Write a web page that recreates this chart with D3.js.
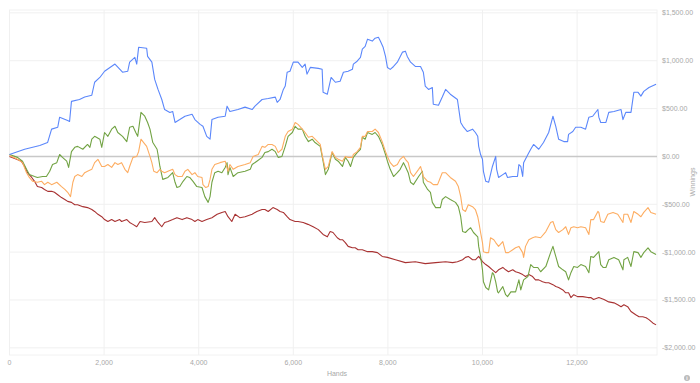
<!DOCTYPE html>
<html>
<head>
<meta charset="UTF-8" />
<script src="https://d3js.org/d3.v7.min.js"></script>
<style>
  body { margin: 0; background: #fff; }
  svg text { font-family: "Liberation Sans", Arial, sans-serif; fill: #a8a8a8; }
</style>
</head>
<body>
<div id="chart"></div>
<script>
// ---------- data: [hands, winnings] ----------
const blueData = [
  [0,20],[320,75],[640,115],[805,145],[890,285],[1020,305],[1060,410],[1230,375],[1270,365],[1310,575],
  [1480,595],[1590,620],[1740,640],[1800,775],[1910,825],[2010,890],[2230,965],[2390,880],[2500,890],[2540,985],
  [2650,1035],[2690,965],[2730,1140],[2900,1130],[2920,1045],[3010,985],[3070,805],[3140,700],[3220,595],[3280,490],
  [3390,460],[3450,470],[3500,355],[3600,385],[3710,420],[3860,440],[3920,385],[4030,335],[4090,315],[4170,210],
  [4240,180],[4280,385],[4410,410],[4560,420],[4600,525],[4660,470],[4830,490],[4980,515],[5130,490],[5190,525],
  [5340,595],[5470,605],[5620,620],[5660,565],[5720,595],[5790,700],[5830,735],[5870,880],[5930,890],[6000,985],
  [6100,985],[6190,930],[6250,965],[6290,860],[6360,930],[6530,920],[6610,910],[6630,670],[6720,650],[6800,825],
  [6890,775],[6990,785],[7060,880],[7160,890],[7250,910],[7270,965],[7350,995],[7420,1035],[7460,1120],[7520,1150],
  [7570,1225],[7670,1205],[7730,1235],[7800,1245],[7840,1205],[7900,1140],[7950,1045],[7990,930],[8050,910],[8120,940],
  [8200,985],[8310,1090],[8370,1100],[8410,1045],[8480,985],[8580,940],[8690,940],[8750,880],[8790,735],[8860,700],
  [8940,720],[8960,545],[9070,535],[9150,620],[9220,700],[9320,650],[9470,595],[9540,355],[9600,305],[9680,260],
  [9790,285],[9850,250],[9900,210],[9920,105],[9960,20],[10000,-30],[10020,-155],[10070,-260],[10130,-270],[10210,-105],
  [10280,0],[10300,-135],[10340,-220],[10430,-190],[10490,-170],[10530,-220],[10640,-210],[10740,-210],[10770,-85],[10810,-105],
  [10850,-210],[10870,-65],[10960,20],[11020,75],[11080,125],[11190,75],[11290,145],[11400,250],[11490,420],[11550,315],
  [11610,180],[11720,155],[11800,155],[11820,230],[11910,260],[11970,305],[12080,305],[12180,285],[12250,410],[12330,420],
  [12440,490],[12460,410],[12500,355],[12610,355],[12670,460],[12780,470],[12930,490],[12970,385],[13030,460],[13140,460],
  [13200,670],[13290,670],[13350,630],[13410,680],[13520,720],[13670,755]
];

const greenData = [
  [0,20],[170,-10],[275,-50],[360,-135],[420,-190],[530,-210],[590,-220],[700,-210],[780,-210],[850,-155],
  [910,-85],[1000,-65],[1060,20],[1120,-10],[1210,-50],[1250,-115],[1310,50],[1380,95],[1440,105],[1550,75],
  [1650,125],[1700,95],[1740,180],[1800,210],[1910,180],[1950,95],[2010,250],[2080,210],[2160,285],[2230,315],
  [2290,250],[2390,210],[2480,155],[2540,305],[2610,315],[2670,250],[2710,210],[2780,460],[2860,420],[2920,355],
  [2970,285],[3030,145],[3120,75],[3140,20],[3180,-105],[3240,-240],[3350,-220],[3450,-170],[3500,-270],[3540,-325],
  [3600,-315],[3670,-260],[3750,-210],[3810,-220],[3880,-260],[3960,-315],[4070,-325],[4130,-420],[4200,-480],[4240,-420],
  [4280,-270],[4340,-170],[4410,-155],[4490,-170],[4560,-115],[4600,-65],[4620,-190],[4660,-115],[4730,-210],[4830,-170],
  [4980,-155],[5090,-135],[5130,-85],[5230,-50],[5340,-10],[5400,40],[5470,50],[5550,75],[5620,50],[5680,-10],
  [5760,0],[5830,105],[5890,210],[5980,250],[6040,315],[6100,285],[6190,285],[6250,210],[6320,155],[6400,180],
  [6460,145],[6570,105],[6630,-50],[6680,-190],[6740,-135],[6820,40],[6890,-30],[6950,-50],[7040,-105],[7100,-10],
  [7160,-50],[7210,-105],[7270,-10],[7350,40],[7420,75],[7460,200],[7520,180],[7570,250],[7670,230],[7730,250],
  [7800,210],[7880,125],[7950,20],[7990,-50],[8050,-135],[8120,-210],[8200,-170],[8260,-135],[8330,-65],[8370,-105],
  [8430,-170],[8480,-270],[8540,-295],[8650,-210],[8730,-155],[8750,-270],[8840,-345],[8900,-375],[8940,-480],[9010,-535],
  [9110,-535],[9150,-450],[9220,-420],[9320,-450],[9430,-480],[9490,-525],[9540,-630],[9580,-785],[9640,-795],[9700,-765],
  [9750,-745],[9810,-795],[9900,-840],[9920,-940],[9960,-1045],[10000,-1185],[10020,-1310],[10070,-1370],[10130,-1395],[10210,-1215],
  [10240,-1235],[10280,-1310],[10320,-1415],[10340,-1425],[10430,-1360],[10490,-1445],[10530,-1465],[10600,-1415],[10700,-1415],[10770,-1290],
  [10810,-1395],[10870,-1290],[10960,-1255],[11020,-1130],[11080,-1160],[11170,-1160],[11230,-1205],[11340,-1150],[11440,-1005],[11490,-940],
  [11550,-1045],[11610,-1150],[11700,-1185],[11760,-1205],[11820,-1290],[11870,-1215],[11930,-1150],[12010,-1160],[12080,-1130],[12180,-1150],
  [12250,-1215],[12290,-1045],[12350,-1055],[12440,-1005],[12460,-995],[12500,-1130],[12550,-1160],[12610,-1160],[12670,-1080],[12780,-1055],
  [12880,-1080],[12970,-1185],[12990,-1080],[13070,-1055],[13140,-1150],[13200,-995],[13290,-1005],[13350,-1055],[13410,-1005],[13500,-955],
  [13560,-995],[13670,-1025]
];

const orangeData = [
  [0,10],[170,-30],[275,-65],[360,-170],[420,-220],[490,-260],[590,-270],[680,-260],[740,-295],[810,-270],
  [890,-295],[1000,-270],[1100,-315],[1170,-345],[1230,-375],[1290,-420],[1340,-270],[1380,-210],[1440,-190],[1530,-210],
  [1590,-170],[1650,-155],[1740,-135],[1800,-65],[1870,-30],[1950,-105],[2010,-105],[2080,-85],[2160,-115],[2230,-65],
  [2290,-85],[2370,-65],[2440,-135],[2500,-170],[2540,-105],[2610,-10],[2690,0],[2730,50],[2780,180],[2820,155],
  [2900,105],[2970,0],[3010,-65],[3050,-155],[3120,-170],[3180,-135],[3220,-155],[3280,-170],[3350,-155],[3450,-135],
  [3500,-190],[3560,-210],[3650,-210],[3710,-155],[3770,-135],[3860,-190],[3920,-170],[3980,-210],[4070,-220],[4090,-295],
  [4150,-325],[4200,-315],[4240,-240],[4280,-135],[4340,-85],[4450,-65],[4560,-50],[4620,-155],[4660,-85],[4730,-135],
  [4830,-105],[4980,-85],[5090,-65],[5150,0],[5260,20],[5340,105],[5400,95],[5470,125],[5550,125],[5620,105],
  [5680,40],[5760,75],[5830,210],[5890,260],[5980,285],[6040,355],[6100,335],[6190,285],[6250,250],[6320,200],
  [6400,210],[6460,180],[6570,125],[6630,-30],[6680,-135],[6740,-105],[6820,50],[6890,-10],[6950,-30],[7040,-50],
  [7100,0],[7160,-10],[7250,-10],[7270,20],[7350,50],[7420,95],[7460,210],[7520,210],[7570,260],[7670,260],
  [7730,285],[7800,250],[7880,155],[7950,50],[7990,0],[8050,-65],[8120,-105],[8200,-85],[8260,-30],[8330,0],
  [8370,-30],[8430,-65],[8480,-170],[8540,-210],[8650,-135],[8690,-105],[8750,-210],[8840,-260],[8900,-270],[8960,-295],
  [9050,-295],[9110,-220],[9150,-170],[9220,-170],[9320,-220],[9430,-260],[9490,-315],[9540,-420],[9580,-555],[9640,-575],
  [9700,-505],[9790,-525],[9850,-555],[9900,-630],[9920,-680],[9960,-795],[10000,-900],[10020,-995],[10070,-1005],[10130,-1005],
  [10170,-850],[10240,-870],[10280,-900],[10340,-940],[10430,-890],[10490,-1005],[10550,-1005],[10640,-975],[10700,-955],[10770,-940],
  [10850,-1005],[10870,-1055],[10910,-940],[10980,-870],[11060,-850],[11120,-840],[11230,-850],[11340,-785],[11440,-690],[11490,-680],
  [11550,-765],[11610,-795],[11700,-765],[11760,-735],[11820,-815],[11870,-745],[11930,-735],[12010,-745],[12080,-735],[12180,-745],
  [12250,-815],[12290,-660],[12350,-660],[12440,-575],[12460,-585],[12500,-680],[12570,-690],[12650,-605],[12760,-585],[12860,-605],
  [12970,-690],[12990,-605],[13070,-605],[13140,-690],[13200,-575],[13290,-605],[13350,-630],[13410,-585],[13500,-535],[13560,-585],
  [13670,-605]
];

const redData = [
  [0,0],[150,-30],[250,-50],[320,-105],[380,-170],[470,-220],[530,-260],[590,-315],[680,-325],[740,-345],
  [810,-365],[890,-365],[950,-375],[1020,-400],[1100,-430],[1170,-450],[1230,-470],[1310,-480],[1380,-505],[1440,-505],
  [1550,-525],[1650,-535],[1740,-555],[1800,-575],[1870,-605],[1950,-630],[2010,-660],[2080,-680],[2160,-660],[2230,-680],
  [2330,-660],[2370,-680],[2480,-660],[2540,-690],[2610,-710],[2690,-735],[2760,-680],[2860,-690],[3010,-680],[3070,-640],
  [3140,-690],[3220,-735],[3280,-690],[3350,-680],[3450,-660],[3540,-640],[3650,-660],[3750,-640],[3860,-660],[3920,-680],
  [3980,-660],[4070,-680],[4170,-660],[4280,-640],[4390,-605],[4490,-585],[4560,-575],[4620,-630],[4700,-680],[4770,-605],
  [4870,-640],[4980,-630],[5130,-605],[5230,-575],[5340,-555],[5400,-555],[5470,-575],[5570,-535],[5660,-555],[5720,-575],
  [5790,-585],[5870,-630],[5930,-660],[6040,-680],[6100,-680],[6210,-690],[6310,-710],[6420,-735],[6530,-765],[6630,-815],
  [6720,-840],[6780,-785],[6840,-795],[6930,-850],[6990,-870],[7040,-870],[7100,-900],[7160,-940],[7250,-955],[7310,-955],
  [7370,-975],[7460,-975],[7570,-995],[7670,-995],[7780,-1005],[7880,-1045],[7990,-1055],[8160,-1080],[8370,-1110],[8580,-1100],
  [8790,-1120],[9010,-1110],[9220,-1100],[9370,-1110],[9470,-1100],[9580,-1080],[9640,-1055],[9700,-1045],[9790,-1080],[9850,-1080],
  [9920,-1045],[10000,-1100],[10070,-1130],[10130,-1150],[10210,-1185],[10280,-1215],[10340,-1185],[10430,-1160],[10490,-1185],[10550,-1205],
  [10640,-1185],[10700,-1205],[10770,-1215],[10850,-1235],[10910,-1255],[10980,-1235],[11060,-1255],[11120,-1290],[11190,-1290],[11270,-1310],
  [11340,-1320],[11400,-1320],[11490,-1340],[11550,-1360],[11610,-1370],[11700,-1395],[11760,-1425],[11820,-1425],[11870,-1475],[11930,-1445],
  [12010,-1465],[12120,-1465],[12230,-1475],[12290,-1475],[12350,-1495],[12460,-1475],[12570,-1495],[12670,-1520],[12780,-1530],[12860,-1550],
  [12930,-1570],[12990,-1550],[13070,-1570],[13140,-1620],[13240,-1655],[13310,-1675],[13390,-1675],[13460,-1685],[13520,-1705],[13600,-1740],
  [13670,-1760]
];

const seriesList = [
  { data: redData, color: "#a83232" },
  { data: greenData, color: "#72a344" },
  { data: orangeData, color: "#fdad62" },
  { data: blueData, color: "#5b87fb" }
];

const xTicks = [0, 2000, 4000, 6000, 8000, 10000, 12000];
const yTicks = [1500, 1000, 500, 0, -500, -1000, -1500, -2000];
const xDomain = [0, 13690];
const yDomain = [-2075, 1530];

// ---------- chart ----------
const width = 700, height = 383;
const margin = { top: 10, right: 43, bottom: 28, left: 9.5 };

const svg = d3.select("#chart").append("svg")
  .attr("width", width).attr("height", height);

const x = d3.scaleLinear().domain(xDomain).range([margin.left, width - margin.right]);
const y = d3.scaleLinear().domain(yDomain).range([height - margin.bottom, margin.top]);

const money = d => (d < 0 ? "-$" : "$") + d3.format(",.2f")(Math.abs(d));

// grid
svg.append("rect")
  .attr("x", x.range()[0]).attr("y", margin.top)
  .attr("width", x.range()[1] - x.range()[0])
  .attr("height", height - margin.bottom - margin.top)
  .attr("fill", "none").attr("stroke", "#f2f2f2");

svg.append("g").selectAll("line").data(xTicks).join("line")
  .attr("x1", d => x(d)).attr("x2", d => x(d))
  .attr("y1", margin.top).attr("y2", height - margin.bottom)
  .attr("stroke", "#f0f0f0");

svg.append("g").selectAll("line").data(yTicks.filter(d => d !== 0)).join("line")
  .attr("x1", x.range()[0]).attr("x2", x.range()[1])
  .attr("y1", d => y(d)).attr("y2", d => y(d))
  .attr("stroke", "#f0f0f0");

// zero line
svg.append("line")
  .attr("x1", x.range()[0]).attr("x2", x.range()[1])
  .attr("y1", y(0)).attr("y2", y(0))
  .attr("stroke", "#c8c8c8").attr("stroke-width", 1.5);

// tick labels
svg.append("g").selectAll("text").data(xTicks).join("text")
  .attr("x", d => x(d)).attr("y", 365)
  .attr("text-anchor", "middle")
  .attr("font-size", 7)
  .text(d => d3.format(",")(d));

svg.append("g").selectAll("text").data(yTicks).join("text")
  .attr("x", 662).attr("y", d => y(d) + 2.5)
  .attr("text-anchor", "start")
  .attr("font-size", 7)
  .text(money);

// axis titles
svg.append("text")
  .attr("x", 337).attr("y", 376)
  .attr("text-anchor", "middle").attr("font-size", 7)
  .text("Hands");

svg.append("text")
  .attr("transform", "translate(695,182) rotate(-90)")
  .attr("text-anchor", "middle").attr("font-size", 7)
  .text("Winnings");

// lines
const line = d3.line().x(d => x(d[0])).y(d => y(d[1]));

svg.append("g").selectAll("path").data(seriesList).join("path")
  .attr("d", d => line(d.data))
  .attr("fill", "none")
  .attr("stroke", d => d.color)
  .attr("stroke-width", 1.1)
  .attr("stroke-linejoin", "round");

// info icon
const info = svg.append("g").attr("transform", "translate(687,378)");
info.append("circle").attr("r", 3).attr("fill", "#bbb");
info.append("text").attr("y", 2).attr("text-anchor", "middle")
  .attr("font-size", 5).style("fill", "#fff").attr("font-weight", "bold").text("i");
</script>
</body>
</html>
